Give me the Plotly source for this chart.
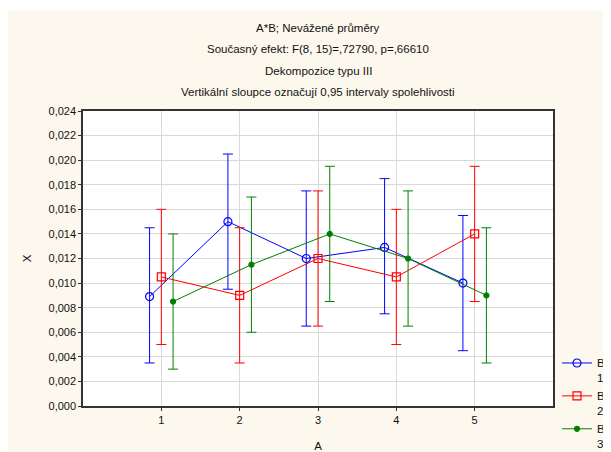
import plotly.graph_objects as go

categories = [1, 2, 3, 4, 5]
series_names = ["B<br>1", "B<br>2", "B<br>3"]
offsets = [-0.15, 0.0, 0.15]

b1_mean = [0.0089, 0.0150, 0.0120, 0.0129, 0.0100]
b1_low = [0.0035, 0.0095, 0.0065, 0.0075, 0.0045]
b1_high = [0.0145, 0.0205, 0.0175, 0.0185, 0.0155]

b2_mean = [0.0105, 0.0090, 0.0120, 0.0105, 0.0140]
b2_low = [0.0050, 0.0035, 0.0065, 0.0050, 0.0085]
b2_high = [0.0160, 0.0145, 0.0175, 0.0160, 0.0195]

b3_mean = [0.0085, 0.0115, 0.0140, 0.0120, 0.0090]
b3_low = [0.0030, 0.0060, 0.0085, 0.0065, 0.0035]
b3_high = [0.0140, 0.0170, 0.0195, 0.0175, 0.0145]

colors = ["#0000ff", "#ff0000", "#008000"]
symbols = ["circle-open", "square-open", "circle"]
sizes = [8, 8, 5]

titles = [
    "A*B; Nevážené průměry",
    "Současný efekt: F(8, 15)=,72790, p=,66610",
    "Dekompozice typu III",
    "Vertikální sloupce označují 0,95 intervaly spolehlivosti",
]

font = "Liberation Sans, Arial, sans-serif"

fig = go.Figure()
data = [(b1_mean, b1_low, b1_high), (b2_mean, b2_low, b2_high), (b3_mean, b3_low, b3_high)]
for i, (m, lo, hi) in enumerate(data):
    xs = [c + offsets[i] for c in categories]
    fig.add_trace(go.Scatter(
        x=xs, y=m, name=series_names[i], mode="lines+markers",
        line=dict(color=colors[i], width=1),
        marker=dict(symbol=symbols[i], size=sizes[i], color=colors[i],
                    line=dict(color=colors[i], width=1.2)),
        error_y=dict(type="data", symmetric=False,
                     array=[h - v for h, v in zip(hi, m)],
                     arrayminus=[v - l for v, l in zip(m, lo)],
                     color=colors[i], thickness=1, width=5),
    ))

# title lines (screen y positions; page has 8px body margin)
title_py = [28, 49, 71, 92]
for t, py in zip(titles, title_py):
    fig.add_annotation(text=t, xref="paper", yref="paper",
                       x=0.5, y=(406 - py) / 295,
                       showarrow=False, xanchor="center", yanchor="middle",
                       font=dict(family=font, size=11.5, color="#111"))

# thin white strip at very top (cream starts slightly lower)
fig.add_shape(type="rect", xref="paper", yref="paper",
              x0=-0.2, x1=1.2, y0=(398 - 3) / 295, y1=1.5,
              fillcolor="white", line=dict(width=0), layer="below")

fig.update_layout(
    width=603, height=444,
    margin=dict(l=75, r=58, t=103, b=46, autoexpand=False),
    paper_bgcolor="#fdf8ee", plot_bgcolor="white",
    separators=", ",
    font=dict(family=font, size=11, color="#111"),
    showlegend=True,
    legend=dict(x=(549 - 75) / 470, y=(398 - 341) / 295, xanchor="left", yanchor="top",
                bgcolor="rgba(0,0,0,0)", font=dict(size=11.5), itemwidth=30,
                tracegroupgap=0, valign="top"),
    xaxis=dict(range=[0, 6], tickvals=categories, ticktext=[str(c) for c in categories],
               showgrid=True, gridcolor="#d9d9d9", gridwidth=1,
               showline=True, linecolor="#333", linewidth=1.5, mirror=True,
               ticks="outside", ticklen=3, tickcolor="#333", zeroline=False,
               title=dict(text="A", standoff=18, font=dict(size=11.5))),
    yaxis=dict(range=[0, 0.024], dtick=0.002, tickformat=".3f",
               showgrid=True, gridcolor="#d9d9d9", gridwidth=1,
               showline=True, linecolor="#333", linewidth=1.5, mirror=True,
               ticks="outside", ticklen=3, tickcolor="#333", zeroline=False,
               title=dict(text="X", standoff=14, font=dict(size=11.5))),
)

fig.write_html("out.html")
